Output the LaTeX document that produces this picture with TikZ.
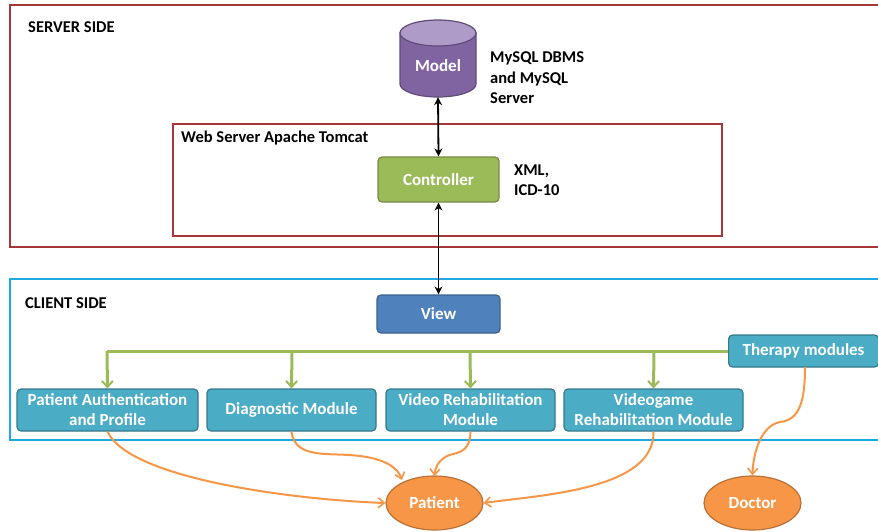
\documentclass[tikz,border=0pt]{standalone}
\usepackage{fontspec}
\setmainfont{Carlito}
\usetikzlibrary{arrows.meta,shapes.geometric}
\definecolor{srvred}{RGB}{165,55,58}
\definecolor{cliblue}{RGB}{30,170,225}
\definecolor{mpurple}{RGB}{128,100,162}
\definecolor{mpurpletop}{RGB}{175,155,200}
\definecolor{cgreen}{RGB}{155,187,89}
\definecolor{vblue}{RGB}{79,129,189}
\definecolor{teal}{RGB}{75,172,198}
\definecolor{orng}{RGB}{247,150,70}
\tikzset{
  x=1pt,y=-1pt,
  lbl/.style={font=\fontsize{16.5}{18}\selectfont\bfseries,anchor=west,inner sep=0},
  frame/.style={line width=1.4pt},
  modbox/.style={rounded corners=4pt,fill=teal,draw=teal!70!black,line width=1.2pt,text=white,
     font=\fontsize{17}{20}\selectfont\bfseries,align=center,inner sep=0},
  oval/.style={ellipse,fill=orng,draw=orng!75!black,line width=1.2pt,text=white,
     font=\fontsize{17}{19}\selectfont\bfseries,inner sep=0,minimum width=97,minimum height=54},
  blk/.style={{Stealth[length=8pt,width=8pt]}-{Stealth[length=8pt,width=8pt]},line width=1.8pt},
  grn/.style={-{Straight Barb[length=6pt,width=11pt,line width=2pt]},draw=cgreen,line width=3pt},
  org/.style={-{Straight Barb[length=6pt,width=10pt,line width=1.6pt]},draw=orng,line width=2pt}
}
\begin{document}
\begin{tikzpicture}
\useasboundingbox (0,0) rectangle (878,531);
% server side
\draw[frame,draw=srvred] (10,5) rectangle (890,247);
\node[lbl] (srvlbl) at (28,27) {SERVER SIDE};
\draw[frame,draw=srvred] (173,124) rectangle (722,236);
\node[lbl] (weblbl) at (181,138) {Web Server Apache Tomcat};
% client side
\draw[frame,draw=cliblue] (10,279) rectangle (890,440);
\node[lbl] (clilbl) at (25,303) {CLIENT SIDE};
% model cylinder
\fill[mpurple,draw=mpurple!75!black,line width=1.2pt]
  (400,33) -- (400,84) arc[start angle=180,end angle=360,x radius=38,y radius=-13] -- (476,33) -- cycle;
\fill[mpurpletop,draw=mpurple!75!black,line width=1.2pt] (438,33) ellipse[x radius=38,y radius=13];
\node[minimum width=76,minimum height=77,inner sep=0] (model) at (438,58.5) {};
\node[text=white,font=\fontsize{17}{19}\selectfont\bfseries] (modeltxt) at (438,66) {Model};
\node[lbl,align=left,font=\fontsize{16.5}{20.5}\selectfont\bfseries] (mysql) at (490,78) {MySQL DBMS\\and MySQL\\Server};
% controller
\node[modbox,fill=cgreen,draw=cgreen!75!black,minimum width=121,minimum height=45] (ctrl) at (438.5,179.5) {Controller};
\node[lbl,align=left,font=\fontsize{16.5}{20.5}\selectfont\bfseries] (xml) at (514,180) {XML,\\ICD-10};
% view
\node[modbox,fill=vblue,draw=vblue!75!black,minimum width=123,minimum height=38] (view) at (438.5,314) {View};
% therapy
\node[modbox,minimum width=150,minimum height=32,anchor=west] (ther) at (728,351) {Therapy modules};
% modules
\node[modbox,minimum width=181,minimum height=42] (auth) at (107.5,410) {Patient Authentication\\and Profile};
\node[modbox,minimum width=169,minimum height=42] (diag) at (291.5,410) {Diagnostic Module};
\node[modbox,minimum width=169,minimum height=42] (vid) at (470.5,410) {Video Rehabilitation\\Module};
\node[modbox,minimum width=179,minimum height=42] (game) at (653.5,410) {Videogame\\Rehabilitation Module};
% actors
\node[oval] (patient) at (434.5,503) {Patient};
\node[oval] (doctor) at (752.5,503) {Doctor};
% black arrows
\draw[blk] (model.south) -- (ctrl.north);
\draw[blk] (ctrl.south) -- (view.north);
% green distribution
\coordinate (gl) at (107,351);
\draw[draw=cgreen,line width=3pt] (ther.west) -- (gl);
\draw[grn] (gl) -- (auth.north);
\draw[grn] (292,351) -- (diag.north);
\draw[grn] (470,351) -- (vid.north);
\draw[grn] (654,351) -- (game.north);
% orange arrows
\draw[org] (auth.south) .. controls (130,480) and (300,500) .. (patient.west);
\draw[org] (diag.south) .. controls (295,460) and (330,452) .. (360,456) .. controls (385,459) and (398,468) .. (402,480);
\draw[org] (vid.south) .. controls (470,455) and (455,452) .. (447,456) .. controls (438,461) and (435,468) .. (434.5,476);
\draw[org] (game.south) .. controls (655,490) and (540,495) .. (patient.east);
\draw[org] (805,367) .. controls (805,400) and (800,420) .. (780,422) .. controls (760,426) and (753,455) .. (doctor.north);
\end{tikzpicture}
\end{document}
